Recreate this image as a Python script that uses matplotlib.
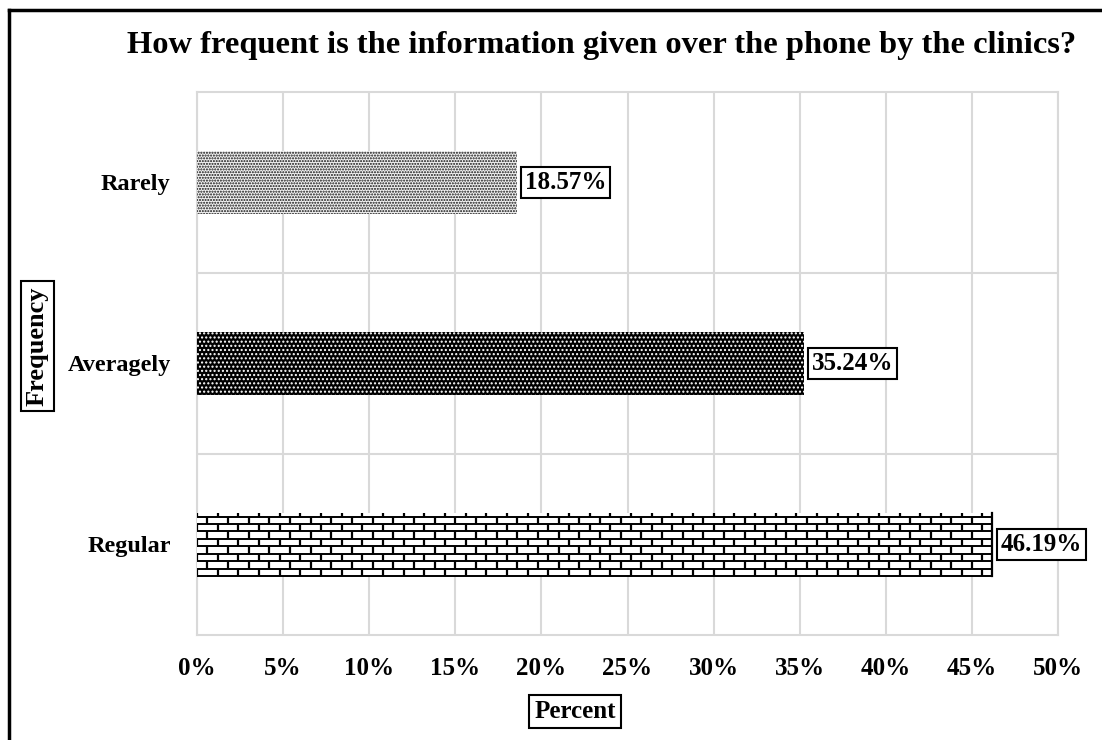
import matplotlib.pyplot as plt
from matplotlib.lines import Line2D
from matplotlib.ticker import MultipleLocator, FuncFormatter

plt.rcParams['font.family'] = ['Liberation Serif', 'DejaVu Serif']
plt.rcParams['font.weight'] = 'bold'

# survey answers, bottom to top
categories = ['Regular', 'Averagely', 'Rarely']
percents = [46.19, 35.24, 18.57]
labels = ['46.19%', '35.24%', '18.57%']

fig = plt.figure(figsize=(11.02, 7.4), dpi=100)
ax = fig.add_axes([0.1788, 0.1419, 0.9601 - 0.1788, 0.8757 - 0.1419])

grid_col = '#d9d9d9'
bar_h = 0.35
bars = ax.barh(range(len(categories)), percents, height=bar_h, zorder=3)

# Rarely: light dotted fill
b = bars[2]
b.set_facecolor('#f2f2f2')
b.set_edgecolor('#111111')
b.set_hatch('......')
b.set_linewidth(0)

# Averagely: black with small white dots
b = bars[1]
b.set_facecolor('black')
b.set_edgecolor('white')
b.set_hatch('....')
b.set_linewidth(0)

# Regular: brick texture drawn inside the bar
b = bars[0]
b.set_facecolor('white')
b.set_linewidth(0)
x0, y0 = b.get_x(), b.get_y()
w, h = b.get_width(), b.get_height()
rows = 8
row_h = h / (rows + 0.5)
brick_w = 1.2
for r in range(rows + 1):
    yy = y0 + r * row_h
    ax.plot([x0, x0 + w], [yy, yy], color='black', lw=1.4, zorder=4,
            solid_capstyle='butt')
for r in range(rows + 1):
    ya, yb = y0 + r * row_h, min(y0 + (r + 1) * row_h, y0 + h)
    xx = x0 + (brick_w / 2 if r % 2 else 0)
    while xx <= x0 + w:
        ax.plot([xx, xx], [ya, yb], color='black', lw=1.6, zorder=4,
                solid_capstyle='butt')
        xx += brick_w
ax.plot([x0 + w, x0 + w], [y0, y0 + h], color='black', lw=1.6, zorder=4)

# value labels in boxes
for bar, lab in zip(bars, labels):
    ax.annotate(lab, (bar.get_width(), bar.get_y() + bar.get_height() / 2),
                xytext=(6, 0), textcoords='offset points', va='center', ha='left',
                fontsize=18, fontweight='bold', zorder=5,
                bbox=dict(boxstyle='square,pad=0.15', fc='white', ec='black', lw=1.5))

ax.set_xlim(0, 50)
ax.set_ylim(-0.5, 2.5)
ax.xaxis.set_major_locator(MultipleLocator(5))
ax.xaxis.set_major_formatter(FuncFormatter(lambda v, p: f'{v:.0f}%'))
ax.set_yticks(range(len(categories)))
ax.set_yticklabels(categories)
ax.set_yticks([0.5, 1.5], minor=True)
ax.tick_params(axis='both', length=0)
ax.tick_params(axis='x', pad=16, labelsize=18)
ax.tick_params(axis='y', pad=19, labelsize=17.5)
ax.tick_params(which='minor', length=0)
ax.grid(True, axis='x', which='major', color=grid_col, lw=1.5, zorder=0)
ax.grid(True, axis='y', which='minor', color=grid_col, lw=1.5, zorder=0)
for s in ax.spines.values():
    s.set_color(grid_col)
    s.set_linewidth(1.5)

fig.text(0.546, 0.938, 'How frequent is the information given over the phone by the clinics?',
         ha='center', va='center', fontsize=23.4, fontweight='bold')

box = dict(boxstyle='square,pad=0.2', fc='white', ec='black', lw=1.5)
fig.text(0.522, 0.039, 'Percent', ha='center', va='center', fontsize=18,
         fontweight='bold', bbox=box)
fig.text(0.034, 0.532, 'Frequency', ha='center', va='center', fontsize=19,
         fontweight='bold', rotation=90, bbox=box)

# outer frame along top and left edges
fig.add_artist(Line2D([0.0082, 1.0], [0.986, 0.986], color='black', lw=2.5,
                      transform=fig.transFigure))
fig.add_artist(Line2D([0.0082, 0.0082], [0.0, 0.986], color='black', lw=2.5,
                      transform=fig.transFigure))

fig.savefig('out.png', dpi=100)
